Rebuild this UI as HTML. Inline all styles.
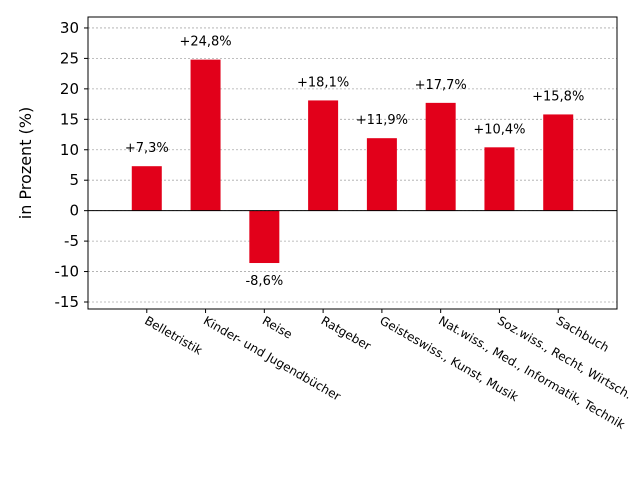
<!DOCTYPE html>
<html><head><meta charset="utf-8"><style>
body{margin:0;background:#fff;}
svg{display:block;font-family:"DejaVu Sans","Liberation Sans",sans-serif;}
</style></head><body>
<svg id="chart" width="640" height="480" viewBox="0 0 640 480"></svg>
<script>
const categories=["Belletristik","Kinder- und Jugendbücher","Reise","Ratgeber","Geisteswiss., Kunst, Musik","Nat.wiss., Med., Informatik, Technik","Soz.wiss., Recht, Wirtsch.","Sachbuch"];
const values=[7.3,24.8,-8.6,18.1,11.9,17.7,10.4,15.8];
const valueLabels=["+7,3%","+24,8%","-8,6%","+18,1%","+11,9%","+17,7%","+10,4%","+15,8%"];
const yTicks=[30,25,20,15,10,5,0,-5,-10,-15];
const NS="http://www.w3.org/2000/svg";
const svg=document.getElementById("chart");
const L=88,R=617,T=17,B=309;
const yMin=-16.15,yMax=31.8;
const y=v=>B-(v-yMin)/(yMax-yMin)*(B-T);
const x=i=>L+(i+1)*(R-L)/(categories.length+1);
function mk(tag,attrs){const e=document.createElementNS(NS,tag);for(const k in attrs)e.setAttribute(k,attrs[k]);svg.appendChild(e);return e;}
yTicks.forEach(t=>{
  const g=mk("line",{x1:L,x2:R,y1:y(t),y2:y(t),stroke:"#aaa","stroke-dasharray":"2,2","stroke-width":0.8});
  
  
  mk("line",{x1:L-4,x2:L,y1:y(t),y2:y(t),stroke:"#000"});
  const tx=mk("text",{x:L-9,y:y(t)+5,"text-anchor":"end","font-size":15});
  tx.textContent=t;
  
  
});
const bw=30;
values.forEach((v,i)=>{
  const r=mk("rect",{x:x(i)-bw/2,y:Math.min(y(v),y(0)),width:bw,height:Math.abs(y(v)-y(0)),fill:"#e2001a"});
  
  
  const lt=mk("text",{x:x(i),y:v>=0?y(v)-14:y(v)+22,"text-anchor":"middle","font-size":13});
  lt.textContent=valueLabels[i];
  
  
  mk("line",{x1:x(i),x2:x(i),y1:B,y2:B+4,stroke:"#000"});
  const c=mk("text",{x:0,y:0,"font-size":12,transform:`translate(${x(i)-3},${B+14}) rotate(30)`});
  c.textContent=categories[i];
  
  
});
const z=mk("line",{x1:L,x2:R,y1:y(0),y2:y(0),stroke:"#000","stroke-width":1});


const f=mk("rect",{x:L,y:T,width:R-L,height:B-T,fill:"none",stroke:"#000","stroke-width":1});


const yt=mk("text",{x:0,y:0,"font-size":16,"text-anchor":"middle",transform:`translate(31,${(T+B)/2}) rotate(-90)`});
yt.textContent="in Prozent (%)";


</script>
</body></html>
